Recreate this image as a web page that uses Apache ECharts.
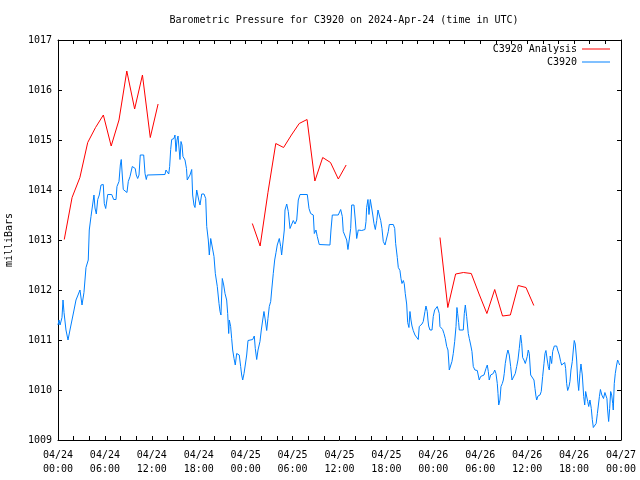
<!DOCTYPE html>
<html>
<head>
<meta charset="utf-8">
<script src="https://cdn.jsdelivr.net/npm/echarts@6/dist/echarts.min.js"></script>
<style>html,body{margin:0;padding:0;background:#fff}#c{width:640px;height:480px}</style>
</head>
<body>
<div id="c"></div>
<script>
// Hours since 2024-04-24 00:00 UTC, pressure in milliBars
var bluePoints = [[0,1011.3],[0.13,1011.4],[0.26,1011.3],[0.51,1011.45],[0.64,1011.8],[0.77,1011.55],[1.02,1011.2],[1.28,1011.0],[1.53,1011.2],[1.79,1011.4],[2.05,1011.6],[2.30,1011.8],[2.56,1011.9],[2.81,1012.0],[3.07,1011.7],[3.32,1011.95],[3.58,1012.45],[3.87,1012.6],[4.00,1013.2],[4.22,1013.47],[4.39,1013.5],[4.60,1013.9],[4.73,1013.64],[4.90,1013.52],[5.08,1013.81],[5.28,1013.9],[5.50,1014.1],[5.79,1014.11],[5.92,1013.73],[6.10,1013.63],[6.36,1013.91],[6.87,1013.91],[7.12,1013.81],[7.42,1013.81],[7.54,1014.07],[7.80,1014.17],[7.97,1014.5],[8.09,1014.61],[8.22,1014.3],[8.35,1014.01],[8.57,1014.0],[8.82,1013.95],[8.99,1014.17],[9.21,1014.27],[9.50,1014.47],[9.72,1014.51],[9.88,1014.43],[10.01,1014.3],[10.19,1014.23],[10.36,1014.3],[10.52,1014.7],[10.96,1014.7],[11.13,1014.33],[11.29,1014.21],[11.42,1014.3],[11.55,1014.31],[13.68,1014.31],[13.81,1014.4],[14.03,1014.43],[14.16,1014.32],[14.28,1014.47],[14.41,1014.81],[14.54,1015.01],[14.83,1015.03],[14.96,1015.1],[15.09,1014.77],[15.22,1015.0],[15.35,1015.08],[15.47,1015.1],[15.60,1014.61],[15.73,1014.97],[15.86,1014.9],[15.98,1014.67],[16.24,1014.6],[16.43,1014.43],[16.53,1014.2],[16.71,1014.17],[16.88,1014.3],[17.10,1014.41],[17.22,1013.9],[17.39,1013.7],[17.52,1013.65],[17.74,1014.0],[18.00,1013.8],[18.16,1013.7],[18.38,1013.92],[18.67,1013.92],[18.89,1013.83],[19.02,1013.27],[19.22,1013.0],[19.35,1012.7],[19.53,1013.03],[19.78,1013.01],[19.95,1012.67],[20.12,1012.33],[20.37,1012.07],[20.59,1011.73],[20.72,1011.57],[20.84,1011.5],[21.01,1012.23],[21.19,1012.1],[21.36,1011.93],[21.57,1011.8],[21.70,1011.53],[21.83,1011.13],[21.91,1011.4],[22.08,1011.27],[22.21,1011.03],[22.34,1010.8],[22.51,1010.63],[22.67,1010.5],[22.85,1010.73],[23.02,1010.77],[23.18,1010.7],[23.36,1010.47],[23.49,1010.3],[23.62,1010.2],[23.79,1010.33],[23.95,1010.5],[24.13,1010.7],[24.30,1010.99],[24.55,1011.0],[24.90,1011.01],[25.10,1011.08],[25.23,1010.83],[25.41,1010.61],[25.58,1010.8],[25.83,1010.97],[26.00,1011.2],[26.18,1011.4],[26.34,1011.57],[26.51,1011.4],[26.69,1011.19],[26.85,1011.43],[27.02,1011.67],[27.20,1011.77],[27.33,1012.0],[27.53,1012.33],[27.71,1012.6],[27.88,1012.75],[28.04,1012.9],[28.30,1013.03],[28.48,1012.87],[28.60,1012.7],[28.81,1012.7],[28.94,1013.2],[29.03,1013.6],[29.25,1013.72],[29.45,1013.57],[29.67,1013.23],[29.88,1013.23],[30.09,1013.39],[30.31,1013.32],[30.53,1013.4],[30.73,1013.8],[30.95,1013.91],[31.88,1013.91],[32.10,1013.63],[32.31,1013.53],[32.65,1013.5],[32.78,1013.13],[32.99,1013.2],[33.16,1013.07],[33.41,1012.91],[34.78,1012.9],[34.91,1013.2],[35.08,1013.5],[35.84,1013.5],[36.15,1013.61],[36.36,1013.47],[36.48,1013.17],[36.70,1013.13],[36.92,1013.0],[37.08,1012.81],[37.25,1012.81],[37.43,1013.23],[37.56,1013.7],[37.85,1013.7],[38.02,1013.4],[38.20,1013.03],[38.40,1013.2],[38.84,1013.19],[39.04,1013.22],[39.26,1013.21],[39.39,1013.37],[39.47,1013.65],[39.64,1013.81],[39.77,1013.51],[39.94,1013.81],[40.12,1013.8],[40.24,1013.52],[40.41,1013.33],[40.58,1013.21],[40.76,1013.39],[40.92,1013.6],[41.09,1013.6],[41.27,1013.39],[41.43,1013.23],[41.60,1012.97],[41.82,1012.9],[42.03,1012.9],[42.24,1013.17],[42.37,1013.31],[42.88,1013.31],[43.06,1013.23],[43.18,1012.93],[43.39,1012.65],[43.52,1012.45],[43.73,1012.39],[43.86,1012.23],[43.99,1012.13],[44.16,1012.19],[44.28,1012.13],[44.41,1011.93],[44.59,1011.72],[44.72,1011.35],[44.88,1011.25],[45.01,1011.57],[45.14,1011.4],[45.27,1011.28],[45.43,1011.19],[45.65,1011.1],[45.87,1011.08],[46.07,1011.01],[46.20,1011.27],[46.38,1011.3],[46.55,1011.32],[46.71,1011.37],[46.93,1011.57],[47.06,1011.68],[47.22,1011.57],[47.31,1011.4],[47.40,1011.28],[47.57,1011.2],[47.83,1011.2],[47.99,1011.47],[48.17,1011.6],[48.34,1011.61],[48.50,1011.67],[48.68,1011.68],[48.76,1011.53],[48.85,1011.27],[48.98,1011.23],[49.07,1011.27],[49.19,1011.21],[49.36,1011.13],[49.53,1011.03],[49.71,1010.87],[49.87,1010.8],[49.96,1010.6],[50.04,1010.4],[50.29,1010.4],[50.38,1010.57],[50.55,1010.73],[50.73,1010.97],[50.90,1011.27],[51.02,1011.65],[51.11,1011.53],[51.24,1011.35],[51.32,1011.2],[51.83,1011.2],[51.96,1011.53],[52.09,1011.7],[52.26,1011.47],[52.47,1011.13],[52.60,1011.03],[52.78,1010.9],[52.94,1010.77],[53.11,1010.47],[53.32,1010.4],[53.62,1010.39],[53.74,1010.3],[53.87,1010.2],[54.05,1010.27],[54.22,1010.3],[54.48,1010.3],[54.73,1010.43],[54.90,1010.5],[55.03,1010.37],[55.15,1010.2],[55.33,1010.3],[55.50,1010.3],[55.67,1010.33],[55.85,1010.4],[56.01,1010.33],[56.18,1010.13],[56.27,1009.93],[56.36,1009.7],[56.52,1009.8],[56.65,1010.07],[56.82,1010.13],[56.95,1010.2],[57.07,1010.33],[57.20,1010.53],[57.38,1010.7],[57.54,1010.8],[57.71,1010.7],[57.89,1010.47],[58.06,1010.2],[58.31,1010.2],[58.48,1010.33],[58.66,1010.47],[58.82,1010.6],[58.99,1010.83],[59.17,1011.1],[59.30,1010.93],[59.42,1010.65],[59.59,1010.6],[59.76,1010.53],[59.89,1010.5],[60.01,1010.67],[60.14,1010.8],[60.27,1010.73],[60.45,1010.3],[60.70,1010.3],[60.87,1010.2],[61.00,1010.03],[61.13,1009.87],[61.22,1009.8],[61.38,1009.88],[61.64,1009.9],[61.80,1009.97],[61.98,1010.27],[62.15,1010.53],[62.28,1010.73],[62.40,1010.79],[62.57,1010.6],[62.70,1010.47],[62.83,1010.4],[62.95,1010.68],[63.13,1010.53],[63.26,1010.77],[63.47,1010.88],[63.77,1010.88],[63.90,1010.8],[64.11,1010.7],[64.28,1010.57],[64.41,1010.5],[64.62,1010.5],[64.80,1010.55],[64.92,1010.43],[65.05,1010.13],[65.18,1009.99],[65.35,1010.07],[65.47,1010.17],[65.60,1010.4],[65.77,1010.57],[65.90,1010.8],[66.02,1010.99],[66.15,1010.92],[66.33,1010.6],[66.46,1010.2],[66.59,1009.99],[66.75,1010.33],[66.88,1010.52],[67.05,1010.3],[67.23,1009.87],[67.36,1009.7],[67.48,1009.97],[67.61,1009.97],[67.74,1009.77],[67.87,1009.67],[68.03,1009.8],[68.20,1009.63],[68.33,1009.41],[68.46,1009.25],[68.64,1009.23],[68.82,1009.33],[68.98,1009.53],[69.11,1009.7],[69.24,1009.87],[69.37,1010.01],[69.55,1009.9],[69.76,1009.83],[69.94,1009.95],[70.11,1009.99],[70.20,1009.83],[70.29,1009.6],[70.42,1009.37],[70.55,1009.63],[70.68,1009.97],[70.81,1009.9],[70.94,1009.73],[71.01,1009.6],[71.14,1010.13],[71.27,1010.33],[71.44,1010.5],[71.57,1010.6],[71.70,1010.55],[71.83,1010.5]];

var analysisRun1 = [[0.8,1013.01],[1.8,1013.85],[2.8,1014.25],[3.8,1014.95],[4.8,1015.25],[5.8,1015.5],[6.8,1014.88],[7.8,1015.4],[8.8,1016.38],[9.8,1015.62],[10.8,1016.3],[11.8,1015.05],[12.8,1015.72]];
var analysisRun2 = [[24.85,1013.33],[25.85,1012.88],[26.85,1013.95],[27.85,1014.93],[28.85,1014.85],[29.85,1015.1],[30.85,1015.33],[31.85,1015.41],[32.85,1014.18],[33.85,1014.65],[34.85,1014.55],[35.85,1014.22],[36.85,1014.5]];
var analysisRun3 = [[48.85,1013.05],[49.85,1011.65],[50.85,1012.32],[51.85,1012.35],[52.85,1012.33],[53.85,1011.92],[54.85,1011.53],[55.85,1012.01],[56.85,1011.48],[57.85,1011.5],[58.85,1012.09],[59.85,1012.05],[60.85,1011.69]];

var startDay = 24;
var yMin = 1009, yMax = 1017;
var titleText = 'Barometric Pressure for C3920 on 2024-Apr-24 (time in UTC)';

var FONT = '"DejaVu Sans Mono", "Liberation Mono", monospace';
var RED = '#ff0000', BLUE = '#0080ff';

function xLabel(v) {
  if (v % 6 !== 0) return '';
  var day = startDay + Math.floor(v / 24);
  var hr = v % 24;
  return '04/' + day + '\n' + (hr < 10 ? '0' : '') + hr + ':00';
}

var axisLineStyle = {show: true, onZero: false, lineStyle: {color: '#000', width: 1}};
var tickStyle = {show: true, inside: true, length: 4, lineStyle: {color: '#000', width: 1}};

var chart = echarts.init(document.getElementById('c'), null, {renderer: 'canvas'});
var analysisSeriesBase = {type: 'line', name: 'C3920 Analysis', showSymbol: false, symbol: 'none',
  lineStyle: {color: RED, width: 1}, itemStyle: {color: RED}, animation: false, z: 3};

chart.setOption({
  animation: false,
  backgroundColor: '#fff',
  title: {
    text: titleText, left: 339, top: 10, textAlign: 'center',
    textStyle: {fontFamily: FONT, fontSize: 10, fontWeight: 'normal', color: '#000'}
  },
  grid: {left: 58, right: 19, top: 40, bottom: 40, containLabel: false, outerBoundsMode: 'none'},
  legend: [
    {data: ['C3920 Analysis'], right: 25, top: 39, align: 'right', icon: 'rect', itemWidth: 28, itemHeight: 1,
     textStyle: {fontFamily: FONT, fontSize: 10, color: '#000'}},
    {data: ['C3920'], right: 25, top: 52, align: 'right', icon: 'rect', itemWidth: 28, itemHeight: 1,
     textStyle: {fontFamily: FONT, fontSize: 10, color: '#000'}}
  ],
  xAxis: [
    {type: 'value', min: 0, max: 72, interval: 2, position: 'bottom',
     axisLine: axisLineStyle, axisTick: tickStyle, splitLine: {show: false},
     axisLabel: {formatter: xLabel, fontFamily: FONT, fontSize: 10, color: '#000', lineHeight: 14, margin: 8}},
    {type: 'value', min: 0, max: 72, interval: 2, position: 'top',
     axisLine: axisLineStyle, axisTick: tickStyle, splitLine: {show: false}, axisLabel: {show: false}}
  ],
  yAxis: [
    {type: 'value', min: yMin, max: yMax, interval: 1, position: 'left',
     axisLine: axisLineStyle, axisTick: tickStyle, splitLine: {show: false},
     axisLabel: {formatter: function (v) { return String(v); }, fontFamily: FONT, fontSize: 10, color: '#000', margin: 6},
     name: 'milliBars', nameLocation: 'middle', nameRotate: 90, nameGap: 44,
     nameTextStyle: {fontFamily: FONT, fontSize: 10, color: '#000'}},
    {type: 'value', min: yMin, max: yMax, interval: 1, position: 'right',
     axisLine: axisLineStyle, axisTick: tickStyle, splitLine: {show: false}, axisLabel: {show: false}}
  ],
  series: [
    Object.assign({}, analysisSeriesBase, {data: analysisRun1}),
    Object.assign({}, analysisSeriesBase, {data: analysisRun2}),
    Object.assign({}, analysisSeriesBase, {data: analysisRun3}),
    {type: 'line', name: 'C3920', data: bluePoints, showSymbol: false, symbol: 'none',
     lineStyle: {color: BLUE, width: 1}, itemStyle: {color: BLUE}, animation: false, z: 2}
  ]
});
</script>
</body>
</html>
